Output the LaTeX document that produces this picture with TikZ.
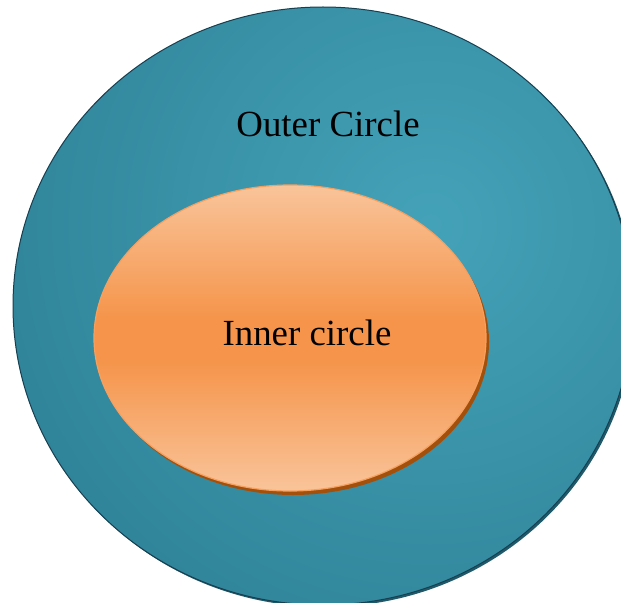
\documentclass[tikz,border=0pt]{standalone}
\usepackage{fontspec}
\setmainfont{Liberation Serif}
\definecolor{tealbody}{HTML}{2F8398}
\definecolor{teallight}{HTML}{44A2B8}
\definecolor{tealshadow}{HTML}{1F5A6B}
\definecolor{tealedge}{HTML}{173F50}
\definecolor{orlight}{HTML}{F9C49A}
\definecolor{ormid}{HTML}{F5944A}
\definecolor{orshadow}{HTML}{A3500C}
\definecolor{oredge}{HTML}{F6A060}
\tikzset{
  lbl/.style={anchor=base, font=\fontsize{37}{40}\selectfont, text=black, inner sep=0pt}
}
\begin{document}
\begin{tikzpicture}[x=1bp,y=-1bp]
\useasboundingbox (0,0) rectangle (621,603);
% outer circle
\fill[tealshadow] (325,308) ellipse [x radius=310, y radius=299];
\begin{scope}
  \clip (323,306) ellipse [x radius=310, y radius=299];
  \shade[inner color=teallight, outer color=tealbody] (430,225) circle (460);
\end{scope}
\draw[tealedge, line width=1bp] (323,306) ellipse [x radius=310, y radius=299];
% inner circle
\fill[orshadow] (293,342) ellipse [x radius=196, y radius=153];
\begin{scope}
  \clip (290,338) ellipse [x radius=196, y radius=153];
  \shade[top color=orlight, bottom color=ormid] (94,185) rectangle (486,320);
  \fill[ormid] (94,319) rectangle (486,360);
  \shade[top color=ormid, bottom color=orlight] (94,359) rectangle (486,491);
\end{scope}
\draw[oredge, line width=1.2bp] (290,338) ellipse [x radius=196, y radius=153];
% labels
\node[lbl] (outer) at (328,137) {Outer Circle};
\node[lbl] (inner) at (307,345) {Inner circle};
\end{tikzpicture}
\end{document}
